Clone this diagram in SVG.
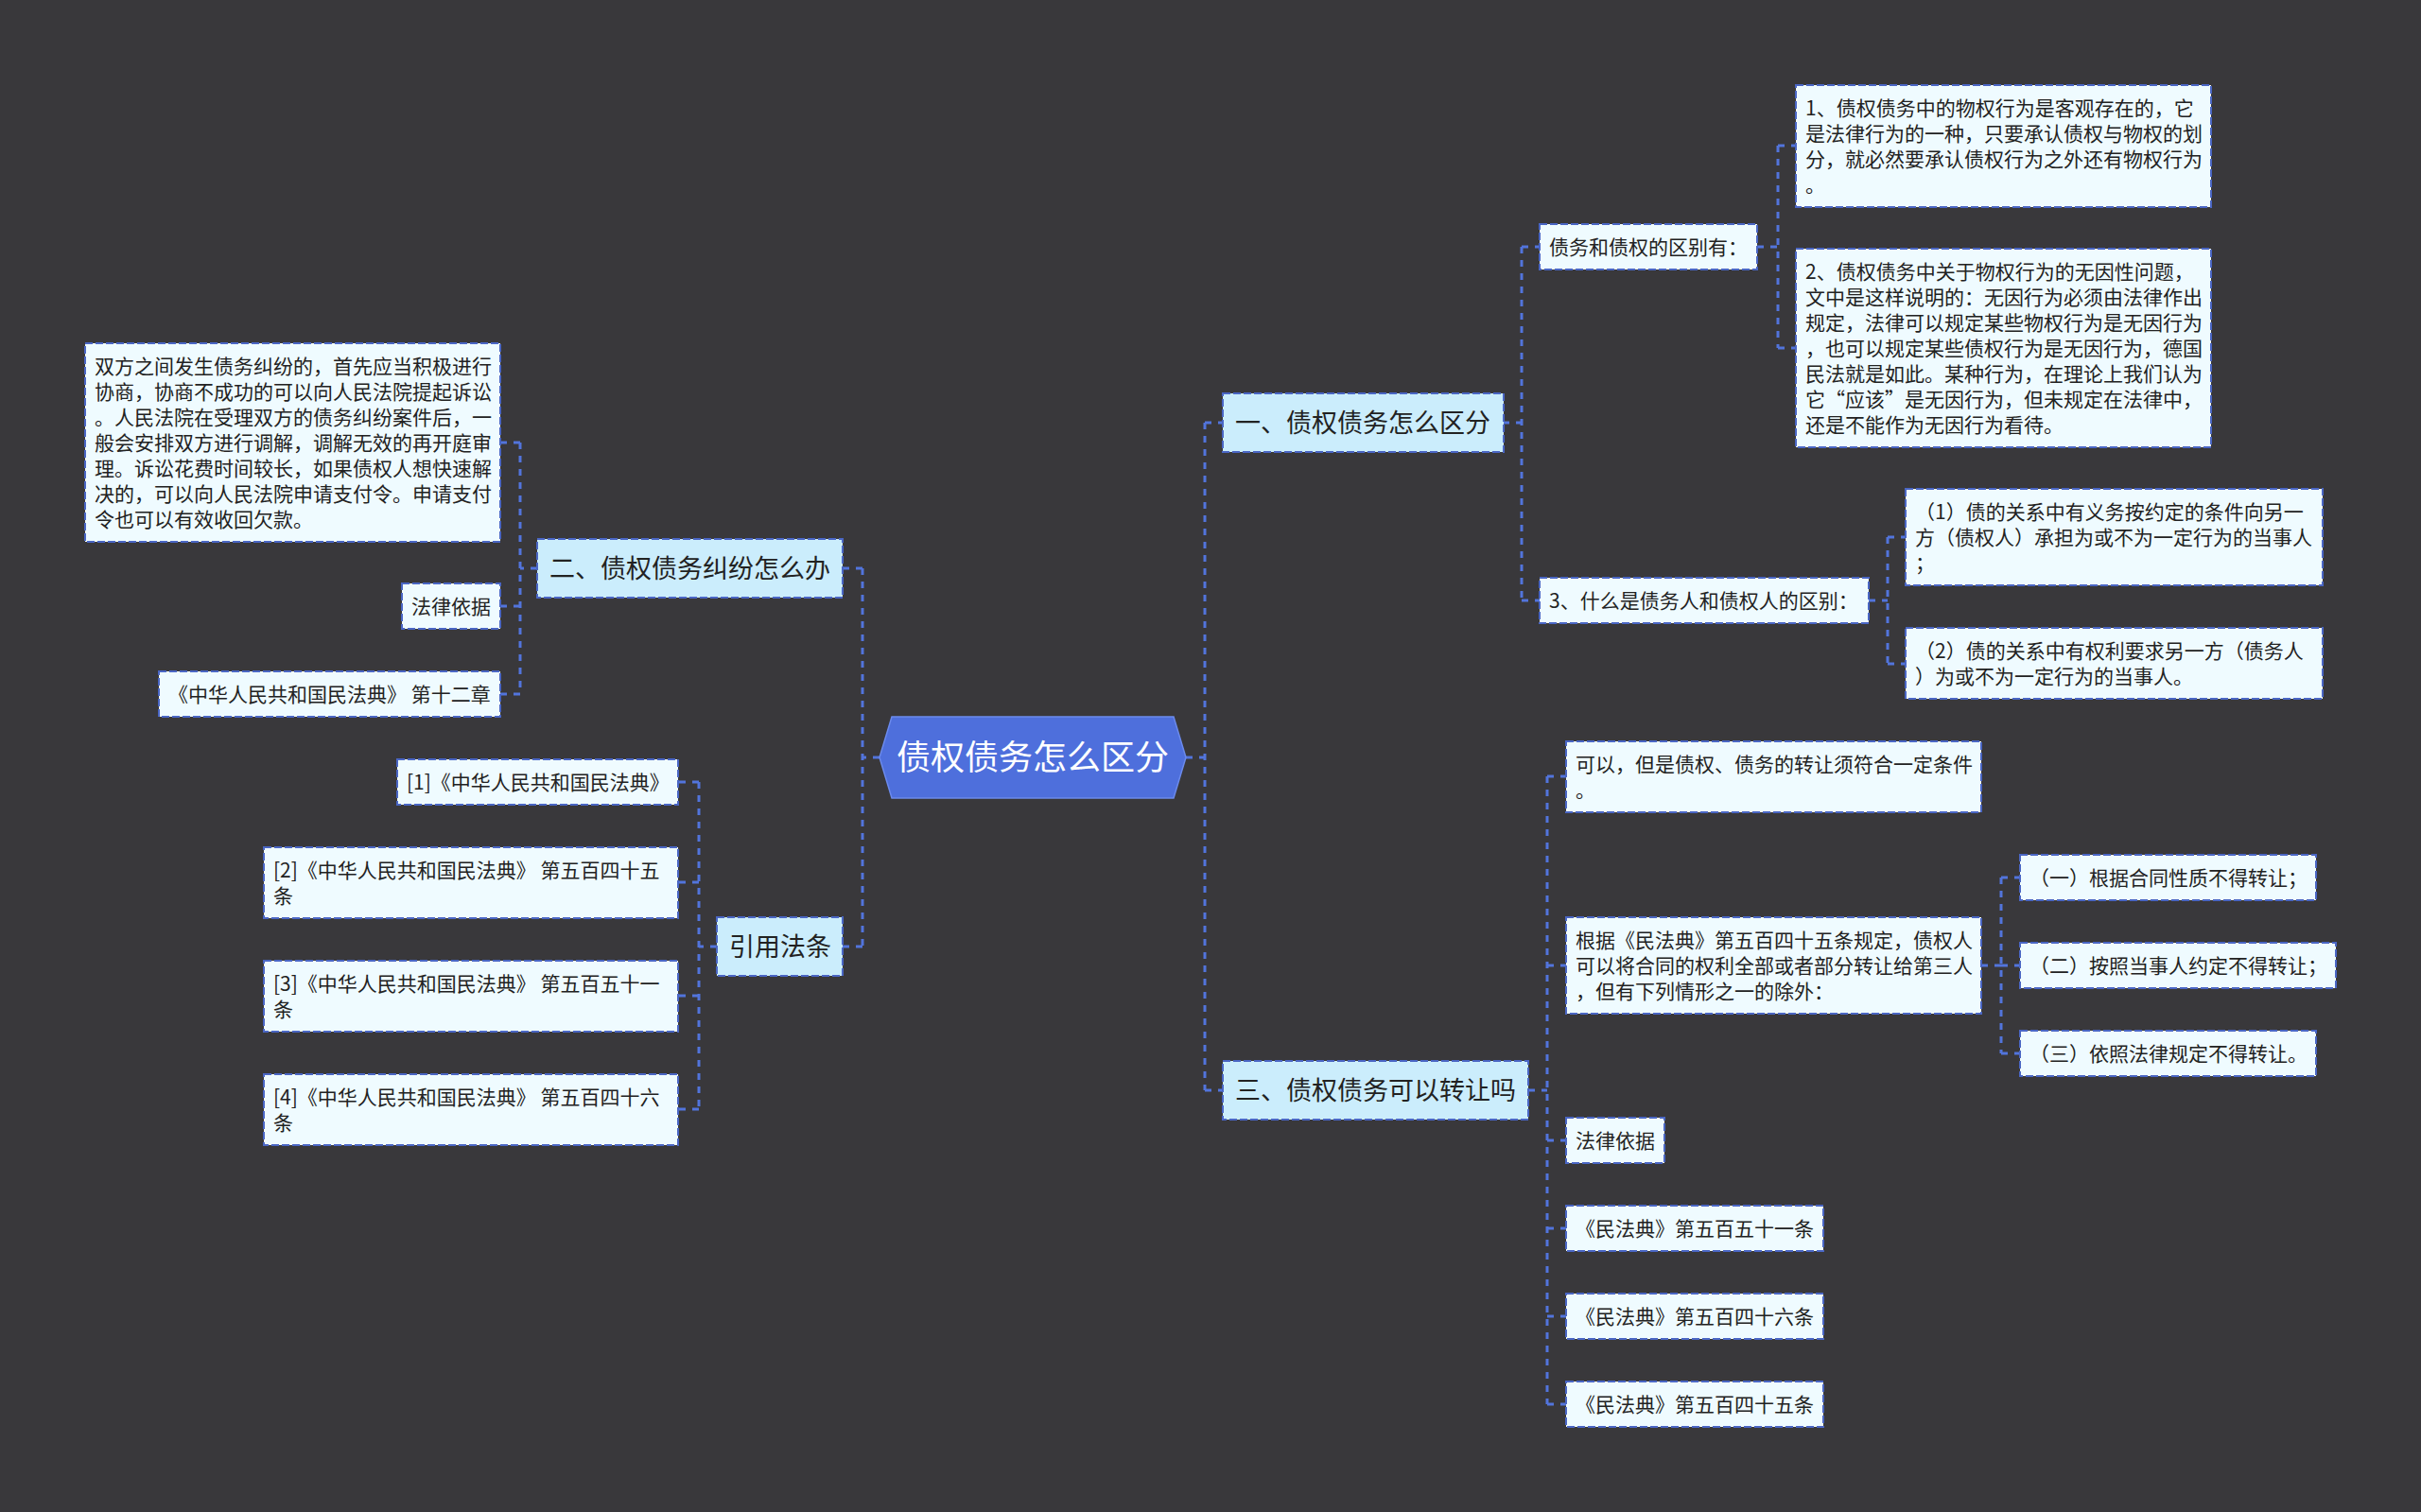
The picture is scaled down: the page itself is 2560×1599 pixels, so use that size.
<svg xmlns="http://www.w3.org/2000/svg" width="2560" height="1599" viewBox="0 0 2560 1599">
<style>
.bg{fill:#39383b}
.edge{fill:none;stroke:#5274dc;stroke-width:3;stroke-dasharray:7 7}
.l1 rect{fill:#cbedfc;stroke:#4a66c4;stroke-width:2;stroke-dasharray:8 3}
.l2 rect{fill:#effbff;stroke:#4a66c4;stroke-width:2;stroke-dasharray:8 3}
.l1 text{font-family:"Microsoft YaHei","Noto Sans CJK SC",sans-serif;font-size:27px;fill:#222}
.l2 text{font-family:"Microsoft YaHei","Noto Sans CJK SC",sans-serif;font-size:21px;fill:#222}
.root polygon{fill:#4e6fdc;stroke:#6b8aec;stroke-width:1.5}
.root text{font-family:"Microsoft YaHei","Noto Sans CJK SC",sans-serif;font-size:36px;fill:#fff}
</style>
<rect class="bg" x="0" y="0" width="2560" height="1599"/>
<g id="connectors">
<path class="edge" d="M1254,801 H1274 M1274,447 V1153 M1274,447 H1293 M1274,1153 H1293"/>
<path class="edge" d="M930,801 H912 M912,601 V1001 M912,601 H891 M912,1001 H891"/>
<path class="edge" d="M1589,447 H1609 M1609,261 V635 M1609,261 H1628 M1609,635 H1628"/>
<path class="edge" d="M1858,261 H1880 M1880,154 V368 M1880,154 H1899 M1880,368 H1899"/>
<path class="edge" d="M1976,635 H1996 M1996,568 V702 M1996,568 H2015 M1996,702 H2015"/>
<path class="edge" d="M1616,1153 H1636 M1636,821 V1485 M1636,821 H1656 M1636,1021 H1656 M1636,1206 H1656 M1636,1299 H1656 M1636,1392 H1656 M1636,1485 H1656"/>
<path class="edge" d="M2095,1021 H2116 M2116,928 V1114 M2116,928 H2136 M2116,1021 H2136 M2116,1114 H2136"/>
<path class="edge" d="M568,601 H550 M550,468 V734 M550,468 H529 M550,641 H529 M550,734 H529"/>
<path class="edge" d="M758,1001 H739 M739,827 V1173 M739,827 H717 M739,933 H717 M739,1053 H717 M739,1173 H717"/>
</g>
<g id="root" class="root">
<polygon points="930,801 943,758 1241,758 1254,801 1241,844 943,844"/>
<text x="1092" y="814" text-anchor="middle">债权债务怎么区分</text>
</g>
<g id="n-a" class="l1"><rect x="1293" y="416" width="297" height="62"/><text x="1306" y="457">一、债权债务怎么区分</text></g>
<g id="n-c" class="l1"><rect x="1293" y="1122" width="323" height="62"/><text x="1306" y="1163">三、债权债务可以转让吗</text></g>
<g id="n-b" class="l1"><rect x="568" y="570" width="323" height="62"/><text x="581" y="611">二、债权债务纠纷怎么办</text></g>
<g id="n-d" class="l1"><rect x="758" y="970" width="133" height="62"/><text x="771" y="1011">引用法条</text></g>

<g id="n-a1" class="l2"><rect x="1628" y="237" width="230" height="48"/><text x="1638" y="268.5">债务和债权的区别有：</text></g>
<g id="n-a1a" class="l2"><rect x="1899" y="90" width="439" height="129"/><text x="1909" y="121.5">1、债权债务中的物权行为是客观存在的，它<tspan x="1909" dy="27">是法律行为的一种，只要承认债权与物权的划</tspan><tspan x="1909" dy="27">分，就必然要承认债权行为之外还有物权行为</tspan><tspan x="1909" dy="27">。</tspan></text></g>
<g id="n-a1b" class="l2"><rect x="1899" y="263" width="439" height="210"/><text x="1909" y="294.5">2、债权债务中关于物权行为的无因性问题，<tspan x="1909" dy="27">文中是这样说明的：无因行为必须由法律作出</tspan><tspan x="1909" dy="27">规定，法律可以规定某些物权行为是无因行为</tspan><tspan x="1909" dy="27">，也可以规定某些债权行为是无因行为，德国</tspan><tspan x="1909" dy="27">民法就是如此。某种行为，在理论上我们认为</tspan><tspan x="1909" dy="27">它“应该”是无因行为，但未规定在法律中，</tspan><tspan x="1909" dy="27">还是不能作为无因行为看待。</tspan></text></g>
<g id="n-a2" class="l2"><rect x="1628" y="611" width="348" height="48"/><text x="1638" y="642.5">3、什么是债务人和债权人的区别：</text></g>
<g id="n-a2a" class="l2"><rect x="2015" y="517" width="441" height="102"/><text x="2025" y="548.5">（1）债的关系中有义务按约定的条件向另一<tspan x="2025" dy="27">方（债权人）承担为或不为一定行为的当事人</tspan><tspan x="2025" dy="27">；</tspan></text></g>
<g id="n-a2b" class="l2"><rect x="2015" y="664" width="441" height="75"/><text x="2025" y="695.5">（2）债的关系中有权利要求另一方（债务人<tspan x="2025" dy="27">）为或不为一定行为的当事人。</tspan></text></g>

<g id="n-c1" class="l2"><rect x="1656" y="784" width="439" height="75"/><text x="1666" y="815.5">可以，但是债权、债务的转让须符合一定条件<tspan x="1666" dy="27">。</tspan></text></g>
<g id="n-c2" class="l2"><rect x="1656" y="970" width="439" height="102"/><text x="1666" y="1001.5">根据《民法典》第五百四十五条规定，债权人<tspan x="1666" dy="27">可以将合同的权利全部或者部分转让给第三人</tspan><tspan x="1666" dy="27">，但有下列情形之一的除外：</tspan></text></g>
<g id="n-c2a" class="l2"><rect x="2136" y="904" width="313" height="48"/><text x="2146" y="935.5">（一）根据合同性质不得转让；</text></g>
<g id="n-c2b" class="l2"><rect x="2136" y="997" width="334" height="48"/><text x="2146" y="1028.5">（二）按照当事人约定不得转让；</text></g>
<g id="n-c2c" class="l2"><rect x="2136" y="1090" width="313" height="48"/><text x="2146" y="1121.5">（三）依照法律规定不得转让。</text></g>
<g id="n-c3" class="l2"><rect x="1656" y="1182" width="104" height="48"/><text x="1666" y="1213.5">法律依据</text></g>
<g id="n-c4" class="l2"><rect x="1656" y="1275" width="272" height="48"/><text x="1666" y="1306.5">《民法典》第五百五十一条</text></g>
<g id="n-c5" class="l2"><rect x="1656" y="1368" width="272" height="48"/><text x="1666" y="1399.5">《民法典》第五百四十六条</text></g>
<g id="n-c6" class="l2"><rect x="1656" y="1461" width="272" height="48"/><text x="1666" y="1492.5">《民法典》第五百四十五条</text></g>

<g id="n-b1" class="l2"><rect x="90" y="363" width="439" height="210"/><text x="100" y="394.5">双方之间发生债务纠纷的，首先应当积极进行<tspan x="100" dy="27">协商，协商不成功的可以向人民法院提起诉讼</tspan><tspan x="100" dy="27">。人民法院在受理双方的债务纠纷案件后，一</tspan><tspan x="100" dy="27">般会安排双方进行调解，调解无效的再开庭审</tspan><tspan x="100" dy="27">理。诉讼花费时间较长，如果债权人想快速解</tspan><tspan x="100" dy="27">决的，可以向人民法院申请支付令。申请支付</tspan><tspan x="100" dy="27">令也可以有效收回欠款。</tspan></text></g>
<g id="n-b2" class="l2"><rect x="425" y="617" width="104" height="48"/><text x="435" y="648.5">法律依据</text></g>
<g id="n-b3" class="l2"><rect x="168" y="710" width="361" height="48"/><text x="178" y="741.5">《中华人民共和国民法典》 第十二章</text></g>

<g id="n-d1" class="l2"><rect x="420" y="803" width="297" height="48"/><text x="430" y="834.5">[1]《中华人民共和国民法典》</text></g>
<g id="n-d2" class="l2"><rect x="279" y="896" width="438" height="75"/><text x="289" y="927.5">[2]《中华人民共和国民法典》 第五百四十五<tspan x="289" dy="27">条</tspan></text></g>
<g id="n-d3" class="l2"><rect x="279" y="1016" width="438" height="75"/><text x="289" y="1047.5">[3]《中华人民共和国民法典》 第五百五十一<tspan x="289" dy="27">条</tspan></text></g>
<g id="n-d4" class="l2"><rect x="279" y="1136" width="438" height="75"/><text x="289" y="1167.5">[4]《中华人民共和国民法典》 第五百四十六<tspan x="289" dy="27">条</tspan></text></g>
</svg>
